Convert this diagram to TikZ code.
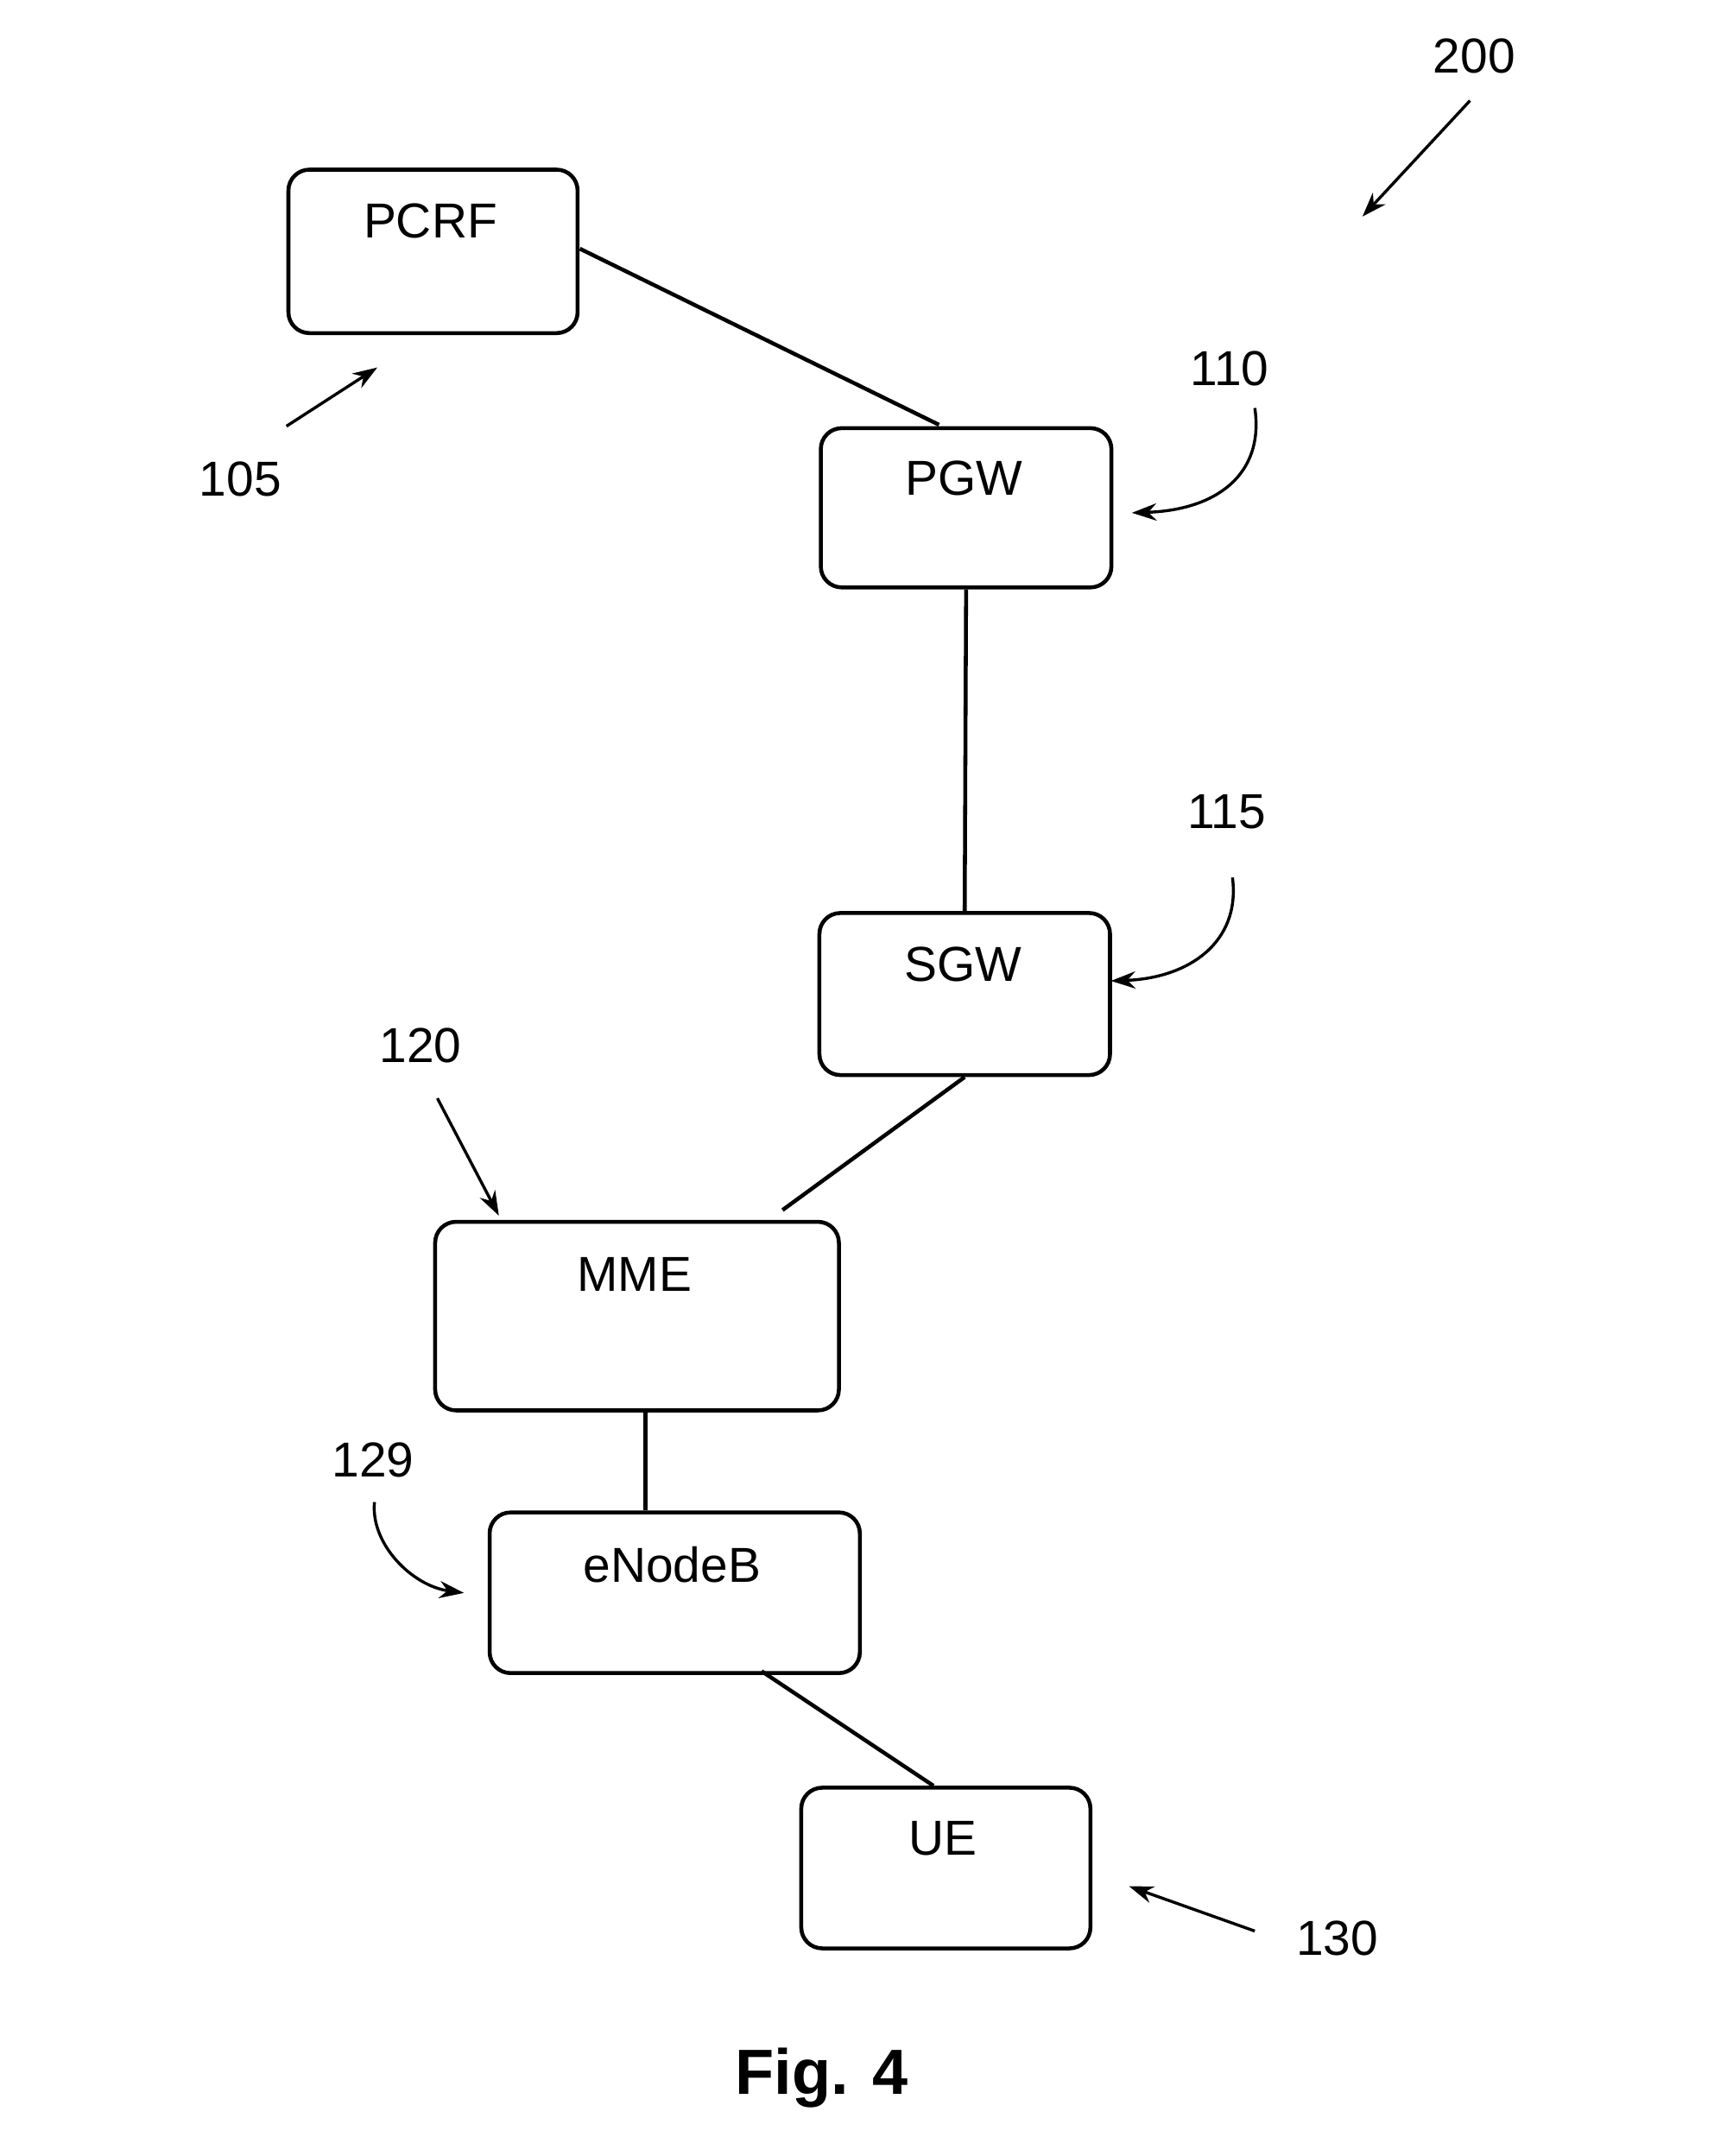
\documentclass[tikz,border=0pt]{standalone}
\usepackage{fontspec}
\setmainfont{Liberation Sans}
\usetikzlibrary{arrows.meta}

\begin{document}
\begin{tikzpicture}[
        x=0.02cm, y=-0.02cm,
        box/.style={draw, line width=1.6pt, rounded corners=0.3cm, anchor=north west},
        tag/.style={font=\fontsize{20}{24}\selectfont},
        ref/.style={-{Stealth[length=10pt,width=7pt]}, line width=1.2pt},
        link/.style={line width=1.6pt}
    ]
    \useasboundingbox (0,0) rectangle (1240,1543);

    % boxes
    \node[box, minimum width=4.14cm, minimum height=2.34cm] (pcrf) at (205,120) {};
    \node[box, minimum width=4.16cm, minimum height=2.28cm] (pgw) at (586,305) {};
    \node[box, minimum width=4.16cm, minimum height=2.32cm] (sgw) at (585,652) {};
    \node[box, minimum width=5.78cm, minimum height=2.70cm] (mme) at (310,873) {};
    \node[box, minimum width=5.30cm, minimum height=2.30cm] (enb) at (349,1081) {};
    \node[box, minimum width=4.14cm, minimum height=2.30cm] (ue) at (572,1278) {};

    % box texts
    \node[tag] (tpcrf) at (308,158) {PCRF};
    \node[tag] (tpgw) at (690,342) {PGW};
    \node[tag] (tsgw) at (689,690) {SGW};
    \node[tag] (tmme) at (454,912) {MME};
    \node[tag] (tenb) at (481,1120) {eNodeB};
    \node[tag] (tue) at (675,1316) {UE};

    % links
    \coordinate (c1) at (415,178);
    \coordinate (c2) at (672,304);
    \coordinate (c3) at (560,866);
    \coordinate (c4) at (545,1196);
    \coordinate (c5) at (668,1278);
    \draw[link] (c1) -- (c2);
    \draw[link] (pgw.south) -- (sgw.north);
    \draw[link] (sgw.south) -- (c3);
    \draw[link] (mme.south -| 462,0) -- (enb.north -| 462,0);
    \draw[link] (c4) -- (c5);

    % reference numerals
    \node[tag] (n200) at (1055,40) {200};
    \node[tag] (n105) at (172,343) {105};
    \node[tag] (n110) at (880,264) {110};
    \node[tag] (n115) at (878,581) {115};
    \node[tag] (n120) at (301,748) {120};
    \node[tag] (n129) at (267,1045) {129};
    \node[tag] (n130) at (957,1387) {130};

    \coordinate (a200) at (975,155);
    \coordinate (a105) at (270,263);
    \coordinate (a110) at (810,367);
    \coordinate (a115) at (795,702);
    \coordinate (a120) at (357,870);
    \coordinate (a129) at (332,1140);
    \coordinate (a130) at (808,1350);
    \draw[ref] (1052,72) -- (a200);
    \draw[ref] (205,305) -- (a105);
    \draw[ref] (898,292) .. controls (905,340) and (870,365) .. (a110);
    \draw[ref] (882,628) .. controls (888,675) and (850,700) .. (a115);
    \draw[ref] (313,786) -- (a120);
    \draw[ref] (268,1075) .. controls (265,1105) and (295,1135) .. (a129);
    \draw[ref] (898,1382) -- (a130);

    \node[font=\fontsize{26}{30}\selectfont\bfseries] (fig) at (588,1487) {Fig. 4};
\end{tikzpicture}
\end{document}
